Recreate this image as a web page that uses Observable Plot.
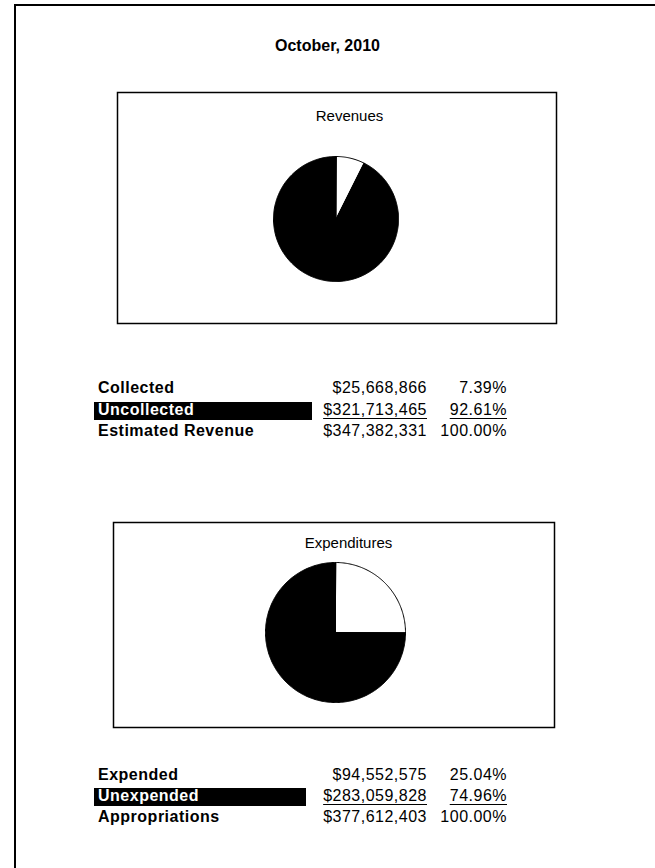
<!DOCTYPE html>
<html>
<head>
<meta charset="utf-8">
<script src="https://cdn.jsdelivr.net/npm/d3@7"></script>
<script src="https://cdn.jsdelivr.net/npm/@observablehq/plot@0.6"></script>
<style>
  html, body { margin: 0; padding: 0; background: #fff; }
  body { width: 655px; height: 868px; position: relative; overflow: hidden; font-family: "Liberation Sans", Arial, sans-serif; color: #000; }
  .frame { position: absolute; left: 14px; top: 4px; width: 700px; height: 900px; border-top: 2px solid #000; border-left: 2px solid #000; }
  .title { position: absolute; left: 0; width: 655px; top: 37.5px; text-align: center; font-weight: bold; font-size: 16px; line-height: 1; }
  .box { position: absolute; }
  .t { position: absolute; font-size: 16px; line-height: 1; letter-spacing: 0.5px; white-space: nowrap; }
  .lbl { font-weight: bold; }
  .bar { position: absolute; background: #000; }
  .u { text-decoration: underline; text-underline-offset: 3px; text-decoration-thickness: 1px; }
</style>
</head>
<body>
<div class="frame"></div>
<div class="title" id="title"></div>
<div id="rev" class="box" style="left:116px; top:91px;"></div>
<div id="exp" class="box" style="left:112px; top:521px;"></div>
<div id="revTable"></div>
<div id="expTable"></div>
<script>
// ---- data ----
const pageTitle = "October, 2010";

const revTitle = "Revenues";
const revLabels = ["Collected", "Uncollected"];
const revValues = [25668866, 321713465];
const revPercents = ["7.39%", "92.61%"];
const revTotalLabel = "Estimated Revenue";
const revTotal = 347382331;
const revTotalPercent = "100.00%";

const expTitle = "Expenditures";
const expLabels = ["Expended", "Unexpended"];
const expValues = [94552575, 283059828];
const expPercents = ["25.04%", "74.96%"];
const expTotalLabel = "Appropriations";
const expTotal = 377612403;
const expTotalPercent = "100.00%";

const sliceColors = ["#ffffff", "#000000"];

// ---- helpers ----
document.getElementById("title").textContent = pageTitle;
const fmt = d3.format("$,");

function wedges(labels, values) {
  const pie = d3.pie().sort(null).value(d => d.value)(labels.map((label, i) => ({label, value: values[i]})));
  const pts = [];
  for (const s of pie) {
    pts.push({label: s.data.label, x: 0, y: 0});
    const n = Math.max(2, Math.ceil((s.endAngle - s.startAngle) / (Math.PI / 180)));
    for (let k = 0; k <= n; k++) {
      const a = s.startAngle + (s.endAngle - s.startAngle) * k / n;
      pts.push({label: s.data.label, x: Math.sin(a), y: Math.cos(a)});
    }
  }
  return pts;
}

function pieChart({title, labels, values, width, height, cx, cy, r, titleDx, titleDy}) {
  return Plot.plot({
    width, height,
    margin: 1,
    x: {domain: [-1, 1], range: [cx - r, cx + r], axis: null},
    y: {domain: [-1, 1], range: [cy + r, cy - r], axis: null},
    color: {domain: labels, range: sliceColors},
    style: {fontFamily: "Liberation Sans, Arial, sans-serif", background: "transparent", overflow: "visible"},
    marks: [
      Plot.frame({stroke: "#000", strokeWidth: 1.5}),
      Plot.text([title], {frameAnchor: "top", text: d => d, dx: titleDx, dy: titleDy, lineAnchor: "bottom", fontSize: 15, fill: "#000"}),
      Plot.line(wedges(labels, values), {x: "x", y: "y", z: "label", fill: "label", stroke: "#000", strokeWidth: 1, curve: "linear-closed"})
    ]
  });
}

document.getElementById("rev").append(pieChart({
  title: revTitle, labels: revLabels, values: revValues,
  width: 441, height: 233, cx: 219.5, cy: 127.5, r: 62.5, titleDx: 12.5, titleDy: 28
}));
document.getElementById("exp").append(pieChart({
  title: expTitle, labels: expLabels, values: expValues,
  width: 443, height: 207, cx: 223, cy: 111, r: 70, titleDx: 14.5, titleDy: 25
}));

function table(el, labels, values, percents, totalLabel, total, totalPct, baselines, barRight) {
  const rows = labels.map((l, i) => ({label: l, value: fmt(values[i]), pct: percents[i], hi: i === 1}));
  rows.push({label: totalLabel, value: fmt(total), pct: totalPct, hi: false});
  let html = "";
  rows.forEach((row, i) => {
    const top = baselines[i] - 13.5;
    if (row.hi) {
      html += `<div class="bar" style="left:94px; width:${barRight - 94}px; top:${baselines[i] - 13.5}px; height:18px;"></div>`;
    }
    html += `<div class="t lbl" style="left:98px; top:${top}px; color:${row.hi ? "#fff" : "#000"}">${row.label}</div>`;
    html += `<div class="t${row.hi ? " u" : ""}" style="right:${655 - 427}px; top:${top}px;">${row.value}</div>`;
    html += `<div class="t${row.hi ? " u" : ""}" style="right:${655 - 507}px; top:${top}px;">${row.pct}</div>`;
  });
  el.innerHTML = html;
}

table(document.getElementById("revTable"), revLabels, revValues, revPercents, revTotalLabel, revTotal, revTotalPercent, [393.5, 415.5, 436.5], 312);
table(document.getElementById("expTable"), expLabels, expValues, expPercents, expTotalLabel, expTotal, expTotalPercent, [780, 801.5, 822.5], 306);
</script>
</body>
</html>
